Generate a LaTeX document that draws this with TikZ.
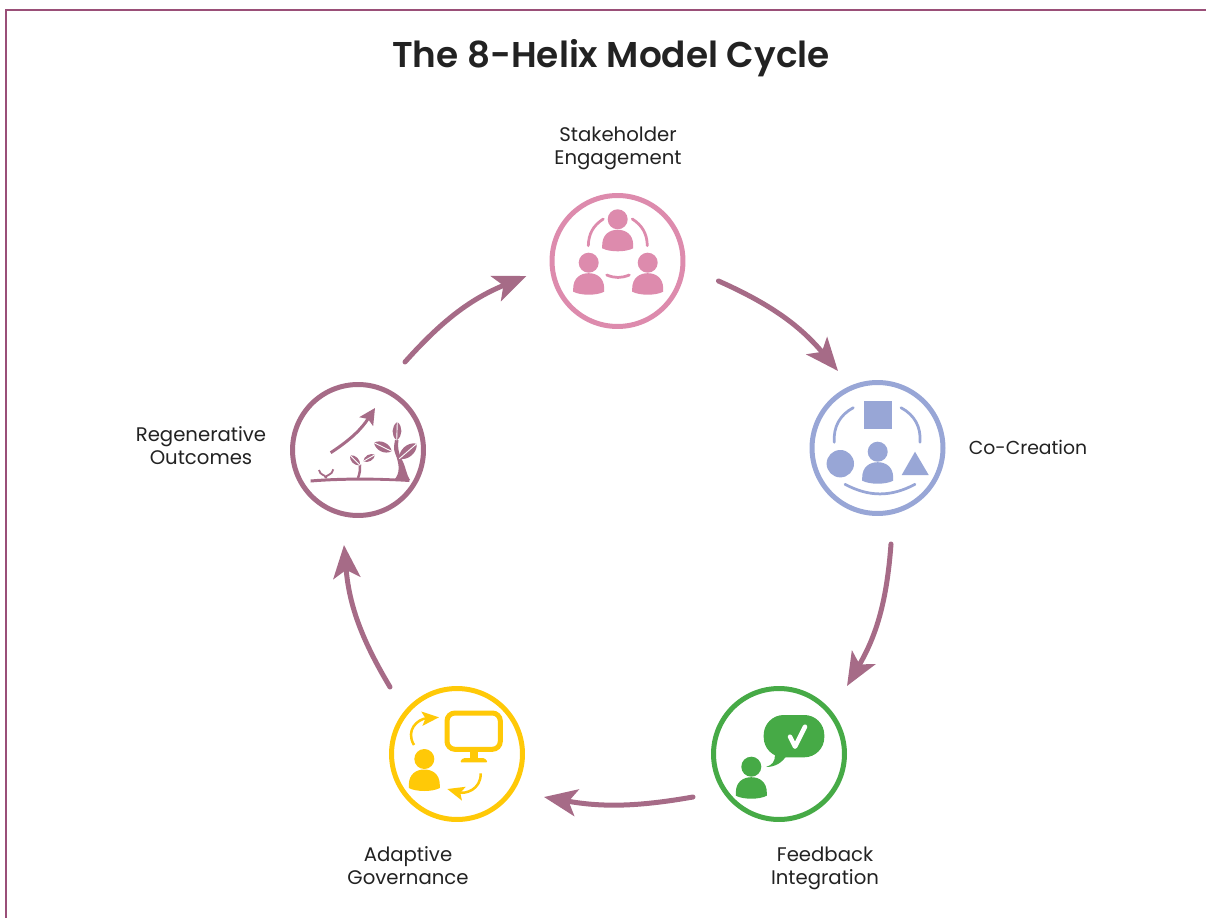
\documentclass[tikz,border=0pt]{standalone}
\usepackage{fontspec}
\setmainfont[BoldFont={Poppins SemiBold}]{Poppins}
\usetikzlibrary{arrows.meta,calc}

\definecolor{pinkc}{HTML}{DD8BAD}
\definecolor{bluec}{HTML}{98A6D6}
\definecolor{greenc}{HTML}{46AA46}
\definecolor{yellowc}{HTML}{FFC907}
\definecolor{plumc}{HTML}{A66B87}
\definecolor{framec}{HTML}{9A4F78}
\definecolor{inkc}{HTML}{222222}

\tikzset{
    ring/.style={circle, draw=#1, line width=0.1cm, minimum size=2.62cm, inner sep=0pt, fill=white},
    flow/.style={draw=plumc, line width=0.1cm, line cap=round, -{Stealth[length=0.66cm,width=0.54cm,inset=0.16cm]}},
    stagelabel/.style={align=center, text=inkc, font=\fontsize{11.2}{13}\selectfont},
    hint/.style={line width=0.055cm, line cap=round},
    vein/.style={draw=white, line width=0.018cm}
}

% Persona: testa e busto, (x,y) centro della testa
\newcommand{\personicon}[3]{%
    \begin{scope}[shift={(#2,#3)}]
        \fill[#1] (0,0) circle (10);
        \fill[#1] (-15.5,26) .. controls (-15.5,15) and (-8,10.5) .. (0,10.5)
            .. controls (8,10.5) and (15.5,15) .. (15.5,26) -- (15.5,29)
            .. controls (8,33) and (-8,33) .. (-15.5,29) -- cycle;
    \end{scope}}

% Foglia con nervatura bianca
\newcommand{\leaficon}[2]{%
    \fill[plumc] (#1) to[bend left=55] (#2) to[bend left=55] (#1);
    \draw[vein] (#1) -- (#2);}

\begin{document}
\begin{tikzpicture}[x=0.02cm,y=-0.02cm]
    \useasboundingbox (0,0) rectangle (1206,918);

    % Cornice
    \draw[framec, line width=0.04cm] (6,918) -- (6,10) -- (1206,10);

    % Titolo
    \node[text=inkc, font=\fontsize{20.4}{24}\selectfont\bfseries] (title) at (611,58) {The 8-Helix Model Cycle};

    % Cerchi
    \node[ring=pinkc] (stake) at (617.5,261) {};
    \node[ring=bluec] (cocreate) at (877.5,448) {};
    \node[ring=greenc] (feedback) at (779,754) {};
    \node[ring=yellowc] (adaptive) at (457,754) {};
    \node[ring=plumc] (regen) at (358,450) {};

    % Etichette
    \node[stagelabel] (stakelabel) at (618,148) {Stakeholder\\Engagement};
    \node[stagelabel, font=\fontsize{10.7}{13}\selectfont] (cocreatelabel) at (1028,447) {Co-Creation};
    \node[stagelabel] (feedbacklabel) at (825,868) {Feedback\\Integration};
    \node[stagelabel] (adaptivelabel) at (408,866) {Adaptive\\Governance};
    \node[stagelabel] (regenlabel) at (201,446) {Regenerative\\Outcomes};

    % Frecce del ciclo
    \draw[flow] ($(stake)+(101,20)$) to[bend left=13] ($(cocreate)+(-39.5,-77)$);
    \draw[flow] ($(cocreate)+(13.5,96)$) to[bend left=13] ($(feedback)+(68,-68)$);
    \draw[flow] ($(feedback)+(-86,43)$) to[bend left=10] ($(adaptive)+(87,43)$);
    \draw[flow] ($(adaptive)+(-67,-67)$) to[bend left=13] ($(regen)+(-14,95)$);
    \draw[flow] ($(regen)+(47,-88)$) to[bend left=13] ($(stake)+(-91,15)$);

    % Icona coinvolgimento
    \personicon{pinkc}{617.7}{219.3}
    \personicon{pinkc}{588.7}{262.7}
    \personicon{pinkc}{647.7}{262.7}
    \draw[pinkc, hint] (588.3,245.7) to[bend left=28] (603.3,219);
    \draw[pinkc, hint] (632.3,219) to[bend left=28] (647.3,245.7);
    \draw[pinkc, hint] (606.7,275) to[bend right=22] (629.3,275);

    % Icona co-creazione
    \personicon{bluec}{877.7}{451.7}
    \fill[bluec] (863.7,401) rectangle (891.7,429);
    \fill[bluec] (840.3,463.7) circle (13.7);
    \fill[bluec] (915,451.7) -- (928.7,475) -- (901.7,475) -- cycle;
    \draw[bluec, hint] (834.3,442.3) to[bend left=33] (853.3,407.7);
    \draw[bluec, hint] (901,407.7) to[bend left=33] (920,442.3);
    \draw[bluec, hint] (845,484.3) to[bend right=28] (915,484.3);

    % Icona feedback
    \personicon{greenc}{751.3}{766.7}
    \fill[greenc, rounded corners=0.4cm] (763.7,715) rectangle (824.3,757.3);
    \fill[greenc] (775,755) .. controls (775,762) and (772,765) .. (766,767)
        .. controls (775,767) and (782,763) .. (787,755) -- cycle;
    \draw[white, line width=0.09cm, line cap=round, line join=round] (790,736.7) -- (795,746.7) -- (805,726.7);

    % Icona governance
    \personicon{yellowc}{424.3}{759}
    \draw[yellowc, line width=0.1cm, rounded corners=0.16cm] (447,713) rectangle (500.3,749.3);
    \fill[yellowc] (469.7,750) rectangle (478,759);
    \fill[yellowc, rounded corners=0.03cm] (459.7,762.3) -- (463,758) -- (484.5,758) -- (488,762.3) -- cycle;
    \draw[yellowc, line width=0.05cm, -{Stealth[length=0.34cm,width=0.28cm,inset=0.07cm]}]
        (414,745) .. controls (405,730) and (418,719) .. (439,717.3);
    \draw[yellowc, line width=0.05cm, -{Stealth[length=0.34cm,width=0.28cm,inset=0.07cm]}]
        (480.7,773.3) .. controls (481,790) and (465,794) .. (447.3,789);

    % Icona rigenerazione
    \fill[plumc] (310.7,479.5) .. controls (340,477) and (380,477) .. (409.3,479.5) -- (409.3,482) .. controls (380,480) and (340,480) .. (310.7,482.5) -- cycle;
    \draw[plumc, line width=0.06cm, -{Stealth[length=0.32cm,width=0.32cm,inset=0.06cm]}]
        (330.7,452.7) to[bend right=12] (375,408);
    \draw[plumc, line width=0.036cm] (325.7,478) .. controls (325.7,474) and (320,476) .. (319,470);
    \draw[plumc, line width=0.036cm] (325.7,478) .. controls (326,474) and (332,476) .. (333.3,469.3);
    \draw[plumc, line width=0.05cm] (358,478) .. controls (360,473) and (360,470) .. (360,464.7);
    \leaficon{360,465.3}{350,455.3}
    \leaficon{363.3,461.3}{375,454.7}
    \fill[plumc] (394,480) .. controls (400,474) and (400,465) .. (395,453)
        .. controls (393,448) and (394.5,444) .. (395,440) -- (398.5,440)
        .. controls (397.5,446) and (398,452) .. (402,460)
        .. controls (406,467) and (406,474) .. (410,480) -- cycle;
    \leaficon{396.7,440.3}{397.3,422}
    \leaficon{391.7,451.3}{374,442.7}
    \leaficon{399.3,458.7}{416.7,443.7}
\end{tikzpicture}
\end{document}
